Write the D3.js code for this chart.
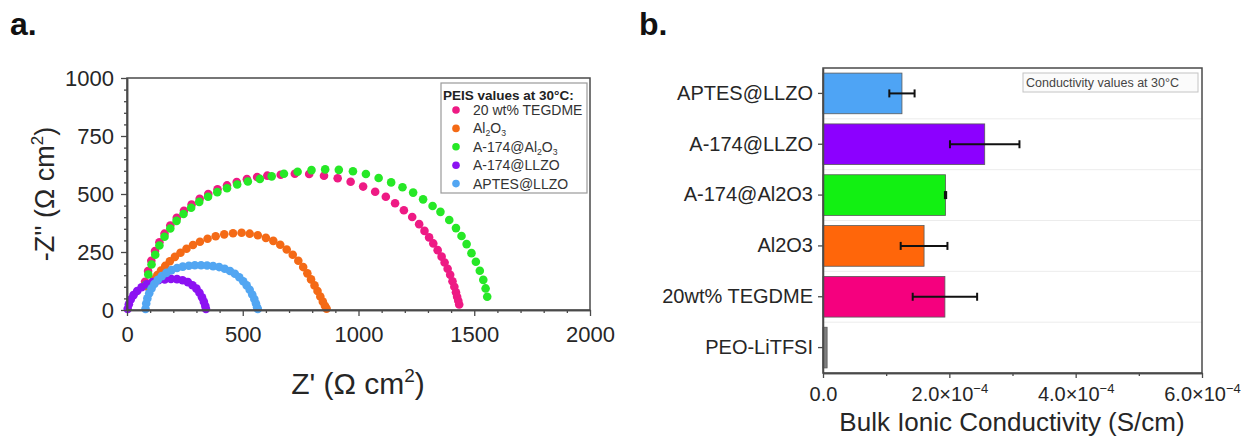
<!DOCTYPE html>
<html>
<head>
<meta charset="utf-8">
<script src="https://cdn.jsdelivr.net/npm/d3@7"></script>
<style>
  body { margin: 0; background: #fff; }
  svg { display: block; }
  text { font-family: "Liberation Sans", Arial, Helvetica, sans-serif; }
</style>
</head>
<body>
<svg id="fig" width="1243" height="446"></svg>
<script>
// ---------- Panel a: Nyquist plots (Z', -Z'') in Ω cm² ----------
const seriesNames = ["20 wt% TEGDME", "Al2O3", "A-174@Al2O3", "A-174@LLZO", "APTES@LLZO"];

const tegdmePoints = [
  [78,122],[91,168],[105,212],[121,254],[140,292],[162,329],[187,364],[215,397],[246,428],[279,455],
  [314,479],[351,500],[391,520],[432,537],[474,552],[518,564],[562,573],[606,579],[664,583],[725,587],
  [787,586],[851,579],[910,568],[966,553],[1020,532],[1072,510],[1118,488],[1158,460],[1196,430],[1232,401],
  [1262,370],[1285,341],[1305,313],[1323,287],[1342,258],[1359,230],[1372,205],[1385,178],[1396,152],[1406,124],
  [1414,100],[1421,76],[1426,57],[1431,40],[1435,24]
];
const al2o3Points = [
  [95,95],[105,113],[117,132],[131,151],[147,170],[165,190],[185,210],[207,229],[231,247],[257,264],
  [285,280],[315,294],[348,307],[383,318],[420,326],[458,331],[495,333],[530,329],[565,322],[600,311],
  [632,298],[662,281],[690,261],[716,238],[740,212],[761,185],[779,158],[795,132],[810,106],[823,82],
  [835,58],[846,36],[855,18],[862,6]
];
const a174Al2o3Points = [
  [80,108],[92,153],[106,196],[122,238],[140,278],[162,316],[187,351],[214,384],[244,414],[277,441],
  [312,466],[350,488],[390,508],[432,525],[476,541],[522,554],[574,565],[625,576],[678,587],[737,596],
  [797,603],[856,606],[915,604],[976,598],[1032,586],[1087,569],[1141,550],[1190,529],[1236,506],[1279,477],
  [1320,448],[1354,423],[1392,388],[1421,353],[1445,319],[1467,284],[1488,245],[1507,208],[1524,169],[1539,130],
  [1549,93],[1556,57]
];
const a174LlzoPoints = [
  [3,5],[8,25],[16,45],[28,64],[44,82],[63,98],[85,111],[110,121],[136,128],[163,132],
  [190,134],[216,133],[240,128],[263,120],[283,107],[300,92],[313,74],[324,55],[332,36],[338,18],[341,5]
];
const aptesLlzoPoints = [
  [80,5],[83,28],[88,50],[96,72],[106,93],[118,112],[133,130],[150,146],[170,160],[192,172],
  [216,181],[241,187],[267,191],[293,193],[320,193],[346,192],[372,189],[398,185],[422,178],[445,168],
  [466,156],[485,141],[502,124],[517,106],[530,87],[541,67],[550,47],[557,28],[562,12],[565,4]
];
const nyquistColors = ["#ee1a84", "#f46a16", "#26e826", "#8c12f2", "#52a6f2"];

const zReTicks = [0, 500, 1000, 1500, 2000];
const zImTicks = [0, 250, 500, 750, 1000];

// ---------- Panel b: bulk ionic conductivity at 30 °C (S/cm) ----------
const barCategories = ["APTES@LLZO", "A-174@LLZO", "A-174@Al2O3", "Al2O3", "20wt% TEGDME", "PEO-LiTFSI"];
const barLabels = ["APTES@LLZO", "A-174@LLZO", "A-174@Al2O3", "Al2O3", "20wt% TEGDME", "PEO-LiTFSI"];
const conductivity = [1.25e-4, 2.56e-4, 1.94e-4, 1.60e-4, 1.93e-4, 0.065e-4];
const conductivityErr = [0.20e-4, 0.55e-4, 0.01e-4, 0.37e-4, 0.51e-4, 0];
const barColors = ["#4ea4f5", "#8c00ff", "#12f012", "#ff660a", "#f5007e", "#808080"];
const condTicks = [0, 2e-4, 4e-4, 6e-4];
const condMinorTicks = [1e-4, 3e-4, 5e-4];

const svg = d3.select("#fig");
const axisColor = "#4a4a4a";
const textColor = "#262626";

// Panel letters
svg.append("text").attr("x", 10).attr("y", 35).attr("font-size", 32).attr("font-weight", "bold")
  .attr("fill", "#111").text("a.");
svg.append("text").attr("x", 639).attr("y", 35).attr("font-size", 32).attr("font-weight", "bold")
  .attr("fill", "#111").text("b.");

// ================= Panel a =================
const xA = d3.scaleLinear().domain([0, 2000]).range([127, 590]);
const yA = d3.scaleLinear().domain([0, 1000]).range([310, 78]);
const gA = svg.append("g");

// clip to frame
svg.append("defs").append("clipPath").attr("id", "clipA")
  .append("rect").attr("x", 122).attr("y", 78).attr("width", 468).attr("height", 236);

const seriesData = [tegdmePoints, al2o3Points, a174Al2o3Points, a174LlzoPoints, aptesLlzoPoints];
const plotA = gA.append("g").attr("clip-path", "url(#clipA)");
seriesData.forEach((pts, i) => {
  plotA.append("g").selectAll("circle").data(pts).join("circle")
    .attr("cx", d => xA(d[0]))
    .attr("cy", d => yA(d[1]))
    .attr("r", 4.3)
    .attr("fill", nyquistColors[i]);
});

// frame
gA.append("rect").attr("x", xA(0)).attr("y", yA(1000))
  .attr("width", xA(2000) - xA(0)).attr("height", yA(0) - yA(1000))
  .attr("fill", "none").attr("stroke", axisColor).attr("stroke-width", 1.5);

function styleAxis(g, fs) {
  g.select(".domain").attr("stroke", axisColor).attr("stroke-width", 1.5);
  g.selectAll(".tick line").attr("stroke", axisColor).attr("stroke-width", 1.3);
  g.selectAll(".tick text").attr("fill", textColor).attr("font-size", fs)
    .attr("font-family", '"Liberation Sans", Arial, sans-serif');
}

const minorX = d3.range(0, 2001, 100).filter(v => !zReTicks.includes(v));
const minorY = d3.range(0, 1001, 50).filter(v => !zImTicks.includes(v));

gA.append("g").attr("transform", "translate(0,310)")
  .call(d3.axisBottom(xA).tickValues(minorX).tickSize(3).tickSizeOuter(0).tickFormat(""))
  .call(g => styleAxis(g, 22));
gA.append("g").attr("transform", "translate(0,310)")
  .call(d3.axisBottom(xA).tickValues(zReTicks).tickSize(6).tickPadding(10).tickSizeOuter(0).tickFormat(d3.format("d")))
  .call(g => styleAxis(g, 22));
gA.append("g").attr("transform", "translate(127,0)")
  .call(d3.axisLeft(yA).tickValues(minorY).tickSize(3).tickSizeOuter(0).tickFormat(""))
  .call(g => styleAxis(g, 22));
gA.append("g").attr("transform", "translate(127,0)")
  .call(d3.axisLeft(yA).tickValues(zImTicks).tickSize(6).tickPadding(7).tickSizeOuter(0).tickFormat(d3.format("d")))
  .call(g => styleAxis(g, 22));

// axis titles
const xTitleA = gA.append("text").attr("x", 358).attr("y", 394).attr("text-anchor", "middle")
  .attr("font-size", 30).attr("fill", textColor);
xTitleA.append("tspan").text("Z' (\u03A9 cm");
xTitleA.append("tspan").attr("dy", -12).attr("font-size", 19).text("2");
xTitleA.append("tspan").attr("dy", 12).text(")");

const yTitleA = gA.append("text").attr("transform", "translate(54,194) rotate(-90)")
  .attr("text-anchor", "middle").attr("font-size", 27).attr("fill", textColor);
yTitleA.append("tspan").text("-Z'' (\u03A9 cm");
yTitleA.append("tspan").attr("dy", -11).attr("font-size", 17).text("2");
yTitleA.append("tspan").attr("dy", 11).text(")");

// legend
const legA = gA.append("g");
legA.append("rect").attr("x", 441).attr("y", 83).attr("width", 146).attr("height", 110)
  .attr("fill", "#fff").attr("stroke", "#9a9a9a").attr("stroke-width", 1.2);
legA.append("text").attr("x", 443).attr("y", 100).attr("font-size", 13.5).attr("font-weight", "bold")
  .attr("fill", "#222").text("PEIS values at 30\u00B0C:");

function writeFormula(sel, label) {
  // renders "Al2O3" with subscripted digits
  const parts = label.split(/(Al2O3)/);
  parts.forEach(p => {
    if (p === "Al2O3") {
      sel.append("tspan").text("Al");
      sel.append("tspan").attr("font-size", "0.62em").attr("dy", 3).text("2");
      sel.append("tspan").attr("dy", -3).text("O");
      sel.append("tspan").attr("font-size", "0.62em").attr("dy", 3).text("3");
      sel.append("tspan").attr("dy", -3).text("");
    } else if (p.length) {
      sel.append("tspan").text(p);
    }
  });
}
seriesNames.forEach((name, i) => {
  const y = 110 + i * 18.4;
  legA.append("circle").attr("cx", 456).attr("cy", y).attr("r", 3.8).attr("fill", nyquistColors[i]);
  const t = legA.append("text").attr("x", 473).attr("y", y + 5).attr("font-size", 14).attr("fill", "#333");
  writeFormula(t, name);
});

// ================= Panel b =================
const xB = d3.scaleLinear().domain([0, 6e-4]).range([823, 1202]);
const yB = d3.scaleBand().domain(barCategories).range([68, 373]).paddingInner(0.2).paddingOuter(0.1);
const gB = svg.append("g");

// faint separators between categories
const step = yB.step();
gB.append("g").selectAll("line").data(barCategories.slice(1)).join("line")
  .attr("x1", xB(0)).attr("x2", xB(6e-4))
  .attr("y1", d => yB(d) - step * 0.1).attr("y2", d => yB(d) - step * 0.1)
  .attr("stroke", "#ececec").attr("stroke-width", 1);

gB.append("g").selectAll("rect").data(barCategories).join("rect")
  .attr("x", xB(0))
  .attr("y", d => yB(d))
  .attr("width", (d, i) => xB(conductivity[i]) - xB(0))
  .attr("height", yB.bandwidth())
  .attr("fill", (d, i) => barColors[i])
  .attr("stroke", "#5a5a5a").attr("stroke-width", 0.8);

// error bars
const errG = gB.append("g").attr("stroke", "#111").attr("stroke-width", 2);
barCategories.forEach((c, i) => {
  if (!conductivityErr[i]) return;
  const cy = yB(c) + yB.bandwidth() / 2;
  const x0 = xB(conductivity[i] - conductivityErr[i]);
  const x1 = xB(conductivity[i] + conductivityErr[i]);
  errG.append("line").attr("x1", x0).attr("x2", x1).attr("y1", cy).attr("y2", cy);
  errG.append("line").attr("x1", x0).attr("x2", x0).attr("y1", cy - 4).attr("y2", cy + 4);
  errG.append("line").attr("x1", x1).attr("x2", x1).attr("y1", cy - 4).attr("y2", cy + 4);
});

// frame
gB.append("rect").attr("x", 823).attr("y", 68).attr("width", 379).attr("height", 305)
  .attr("fill", "none").attr("stroke", axisColor).attr("stroke-width", 1.5);

gB.append("g").attr("transform", "translate(0,373)")
  .call(d3.axisBottom(xB).tickValues(condMinorTicks).tickSize(3).tickSizeOuter(0).tickFormat(""))
  .call(g => styleAxis(g, 20));
const xAxisB = gB.append("g").attr("transform", "translate(0,373)")
  .call(d3.axisBottom(xB).tickValues(condTicks).tickSize(5).tickPadding(9).tickSizeOuter(0))
  .call(g => styleAxis(g, 20));
xAxisB.selectAll(".tick text").each(function(d) {
  const t = d3.select(this).text(null);
  if (d === 0) { t.append("tspan").text("0.0"); return; }
  const exp = Math.floor(Math.log10(d));
  const mant = d / Math.pow(10, exp);
  t.append("tspan").text(mant.toFixed(1) + "\u00D710");
  t.append("tspan").attr("dy", -8).attr("font-size", 13).text("\u2212" + Math.abs(exp));
});

gB.append("g").attr("transform", "translate(823,0)")
  .call(d3.axisLeft(yB).tickSize(5).tickPadding(5).tickSizeOuter(0)
    .tickFormat((d, i) => barLabels[i]))
  .call(g => styleAxis(g, 20));

gB.append("text").attr("x", 1012).attr("y", 431).attr("text-anchor", "middle")
  .attr("font-size", 26).attr("fill", textColor).text("Bulk Ionic Conductivity (S/cm)");

// note box
gB.append("rect").attr("x", 1023).attr("y", 73).attr("width", 175).attr("height", 19)
  .attr("fill", "#fbfbfb").attr("stroke", "#c4c4c4").attr("stroke-width", 1);
gB.append("text").attr("x", 1026).attr("y", 87).attr("font-size", 12.5).attr("fill", "#444")
  .text("Conductivity values at 30\u00B0C");
</script>
</body>
</html>
